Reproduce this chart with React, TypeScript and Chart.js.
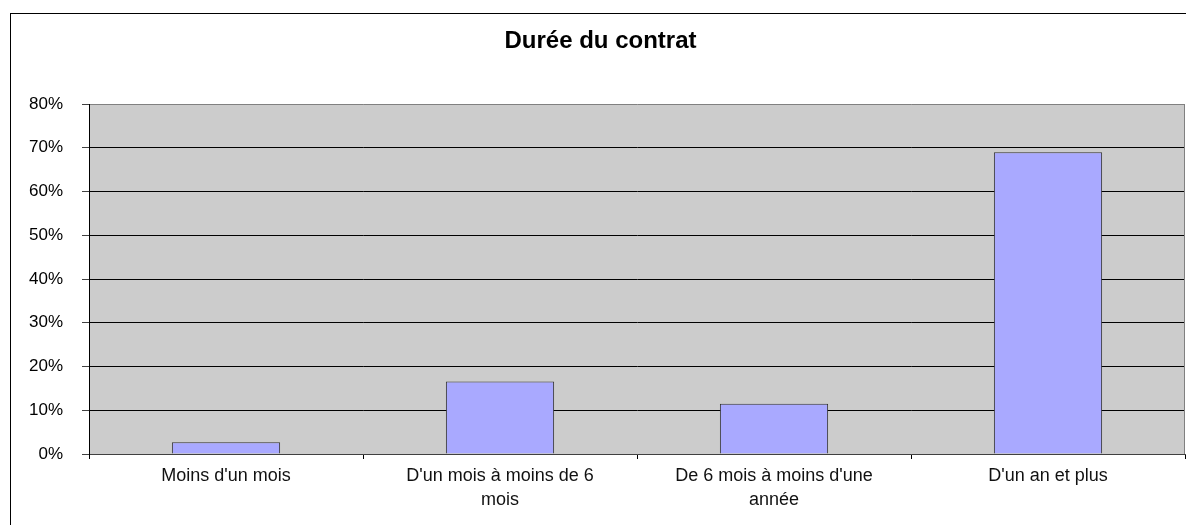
import React, { useEffect, useRef } from "react";
import { Chart, registerables } from "chart.js";

Chart.register(...registerables);

const titleText = "Durée du contrat";
const categories: (string | string[])[] = [
  "Moins d'un mois",
  ["D'un mois à moins de 6", "mois"],
  ["De 6 mois à moins d'une", "année"],
  "D'un an et plus",
];
const values = [2.7, 16.6, 11.5, 69.0];
const yMax = 80;
const yStep = 10;

const FONT = "'Liberation Sans', Arial, sans-serif";

const framePlugin = {
  id: "frame",
  beforeDraw(chart: any) {
    const { ctx, chartArea } = chart;
    ctx.save();
    ctx.fillStyle = "#CCCCCC";
    ctx.fillRect(chartArea.left, chartArea.top, chartArea.right - chartArea.left, chartArea.bottom - chartArea.top);
    ctx.restore();
  },
  afterDraw(chart: any) {
    const { ctx, chartArea } = chart;
    ctx.save();
    ctx.strokeStyle = "#808080";
    ctx.lineWidth = 1;
    ctx.beginPath();
    ctx.moveTo(Math.round(chartArea.right) - 0.5, chartArea.top);
    ctx.lineTo(Math.round(chartArea.right) - 0.5, chartArea.bottom);
    ctx.stroke();
    ctx.restore();
  },
};

export default function App() {
  const ref = useRef<HTMLCanvasElement>(null);
  useEffect(() => {
    if (!ref.current) return;
    const chart = new Chart(ref.current, {
      type: "bar",
      data: {
        labels: categories,
        datasets: [
          {
            data: values,
            backgroundColor: "#A9A9FF",
            borderColor: "#333333",
            borderWidth: 1,
            categoryPercentage: 1,
            barPercentage: 0.395,
          },
        ],
      },
      options: {
        responsive: false,
        animation: false,
        devicePixelRatio: 1,
        layout: { padding: { left: 16, right: 1, top: 0, bottom: 0 } },
        plugins: {
          legend: { display: false },
          tooltip: { enabled: false },
          title: {
            display: true,
            text: titleText,
            color: "#000",
            font: { family: FONT, size: 24, weight: "bold", lineHeight: 1 },
            padding: { top: 29, bottom: 51 },
          },
        },
        scales: {
          x: {
            afterFit: (s: any) => {
              s.height = 71;
            },
            grid: {
              offset: true,
              drawOnChartArea: false,
              drawTicks: true,
              tickLength: 5,
              tickColor: "#000",
            },
            border: { color: "#404040", width: 1 },
            ticks: {
              color: "#111",
              padding: 5,
              maxRotation: 0,
              autoSkip: false,
              font: { family: FONT, size: 18, lineHeight: 1.35 },
            },
          },
          y: {
            min: 0,
            max: yMax,
            afterFit: (s: any) => {
              s.width = 73;
            },
            grid: {
              color: (c: any) =>
                c.tick && c.tick.value === yMax ? "#808080" : c.tick && c.tick.value === 0 ? "#404040" : "#000",
              tickColor: "#404040",
              tickLength: 7,
              lineWidth: 1,
            },
            border: { color: "#000", width: 1 },
            ticks: {
              stepSize: yStep,
              padding: 19,
              color: "#000",
              font: { family: FONT, size: 17 },
              callback: (v: any) => v + "%",
            },
          },
        },
      },
      plugins: [framePlugin],
    });
    return () => chart.destroy();
  }, []);

  return (
    <div
      style={{
        position: "fixed",
        left: 0,
        top: 0,
        width: 1186,
        height: 525,
        overflow: "hidden",
        background: "#fff",
      }}
    >
      <div
        style={{
          position: "absolute",
          left: 10,
          top: 13,
          width: 1200,
          height: 600,
          border: "1px solid #000",
        }}
      />
      <canvas ref={ref} width={1186} height={525} style={{ position: "absolute", left: 0, top: 0 }} />
    </div>
  );
}
